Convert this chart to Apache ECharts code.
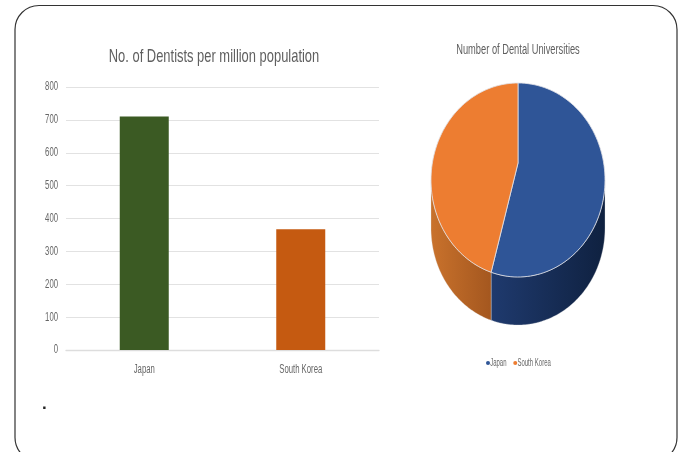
<!DOCTYPE html>
<html><head><meta charset="utf-8">
<style>html,body{margin:0;padding:0;background:#fff;overflow:hidden}#c{width:683px;height:452px;filter:blur(0.45px)}</style>
<script src="https://cdn.jsdelivr.net/npm/echarts@6/dist/echarts.min.js"></script>
</head><body><div id="c"></div>
<script>
const barCategories = ['Japan', 'South Korea'];
const dentistValues = [710, 367];
const barColors = ['#3b5a23', '#c55a11'];
const yTicks = [0, 100, 200, 300, 400, 500, 600, 700, 800];
const pieNames = ['Japan', 'South Korea'];
const universityValues = [55, 45];
const pieColors = ['#2f5597', '#ed7d31'];
const chartTitles = ['No. of Dentists per million population', 'Number of Dental Universities'];
const font = '"Liberation Sans",sans-serif';
const grey = '#666666';

const pieTotal = universityValues.reduce((a, b) => a + b, 0);
const geo = { cx: 518, cy: 180, rx: 87, ry: 97, apexY: 163, depth: 48 };
const rim = (t, dy) => [geo.cx + geo.rx * Math.sin(t), geo.cy + dy - geo.ry * Math.cos(t)];
const arc = (a, b, dy) => {
  const out = [], n = 90;
  for (let i = 0; i <= n; i++) out.push(rim(a + (b - a) * i / n, dy));
  return out;
};
const wallStyle = [
  { from: '#1f3a6e', to: '#0f2140' },
  { from: '#c9722c', to: '#a4571f' }
];
function sliceSeries(idx) {
  return {
    type: 'custom', name: pieNames[idx], coordinateSystem: 'none',
    itemStyle: { color: pieColors[idx] }, silent: true, z: 3,
    data: [universityValues[idx]],
    renderItem(params, api) {
      const before = universityValues.slice(0, idx).reduce((a, b) => a + b, 0);
      const a = before / pieTotal * 2 * Math.PI;
      const b = (before + api.value(0)) / pieTotal * 2 * Math.PI;
      const children = [];
      const wa = Math.max(a, Math.PI / 2), wb = Math.min(b, 1.5 * Math.PI);
      if (wb > wa) {
        const upper = arc(wa, wb, 0), lower = arc(wa, wb, geo.depth).reverse();
        const w = wallStyle[idx];
        children.push({
          type: 'polygon', shape: { points: upper.concat(lower) },
          style: {
            fill: new echarts.graphic.LinearGradient(0, 0, 1, 0, [
              { offset: 0, color: w.from }, { offset: 1, color: w.to }
            ]),
            stroke: 'rgba(225,225,225,0.5)', lineWidth: 0.6
          }
        });
      }
      const top = arc(a, b, 0);
      top.push([geo.cx, geo.apexY]);
      children.push({
        type: 'polygon', shape: { points: top },
        style: { fill: pieColors[idx], stroke: 'rgba(225,225,230,0.9)', lineWidth: 0.9 }
      });
      return { type: 'group', children };
    }
  };
}

const chart = echarts.init(document.getElementById('c'), null, { renderer: 'canvas' });
chart.setOption({
  animation: false,
  backgroundColor: '#fff',
  title: [
    { text: chartTitles[0], left: 209, top: 42, textAlign: 'center',
      textStyle: { fontFamily: font, fontWeight: 'normal', fontSize: 19, color: '#5f5f5f' } },
    { text: chartTitles[1], left: 513, top: 37, textAlign: 'center',
      textStyle: { fontFamily: font, fontWeight: 'normal', fontSize: 15.5, color: '#5f5f5f' } }
  ],
  legend: {
    data: pieNames, left: 481, top: 353, itemWidth: 4, itemHeight: 4, itemGap: -7,
    icon: 'circle', selectedMode: false,
    textStyle: { fontFamily: font, fontSize: 10, color: grey, padding: [0, 0, 0, -2] }
  },
  grid: { left: 66, right: 304, top: 87, bottom: 102, containLabel: false },
  xAxis: {
    type: 'category', data: barCategories,
    axisLine: { lineStyle: { color: '#dddddd', width: 1.3 } }, axisTick: { show: false },
    axisLabel: { fontFamily: font, fontSize: 12.5, color: grey, margin: 13 }
  },
  yAxis: {
    type: 'value', min: yTicks[0], max: yTicks[yTicks.length - 1], interval: yTicks[1] - yTicks[0],
    axisLine: { show: false }, axisTick: { show: false },
    splitLine: { lineStyle: { color: '#e2e2e2', width: 1.2 } },
    axisLabel: { fontFamily: font, fontSize: 12.5, color: grey, margin: 8 }
  },
  series: [
    { type: 'bar', name: 'No. of Dentists', barWidth: 49,
      data: dentistValues.map((v, i) => ({ value: v, itemStyle: { color: barColors[i] } })), z: 2 },
    sliceSeries(0),
    sliceSeries(1)
  ],
  graphic: [
    { type: 'rect', silent: true, z: 0, shape: { x: 15, y: 5.5, width: 662, height: 456, r: 24 },
      style: { fill: 'none', stroke: '#333', lineWidth: 1.2 } },
    { type: 'text', silent: true, z: 5, left: 42, top: 396,
      style: { text: '.', fontFamily: font, fontWeight: 'bold', fontSize: 17, fill: '#222' } }
  ]
});

// The reference's lettering is condensed and no narrow face is installed: squeeze each label about its anchor.
const squeeze = t => t === chartTitles[0] ? 0.68 : t === chartTitles[1] ? 0.6 : 0.62;
const legendSqueeze = 0.6;
chart.getZr().storage.getDisplayList(true).forEach(el => {
  const t = el.style && el.style.text;
  if (!t || t === '.' || !el.parent) return;
  const box = el.parent;
  const isLegend = el.style.fontSize === 10 || /\b10px/.test(el.style.font || '');
  box.scaleX = isLegend ? legendSqueeze : squeeze(t);
  box.markRedraw();
});
chart.getZr().refreshImmediately();
</script></body></html>
